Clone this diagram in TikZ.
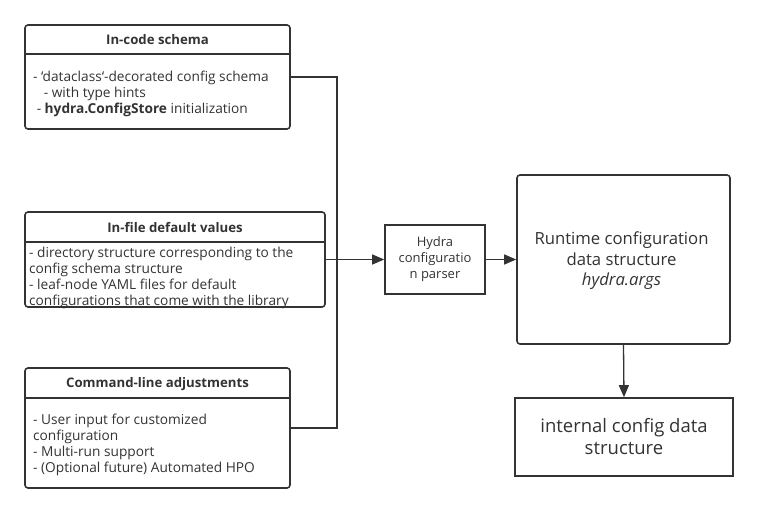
\documentclass[tikz,border=0pt]{standalone}
\usepackage{fontspec}
\setmainfont{Open Sans}
\usetikzlibrary{arrows.meta}
\definecolor{ln}{HTML}{333333}
\definecolor{tx}{HTML}{333333}
\tikzset{
  rbox/.style={draw=ln, line width=1.6pt, rounded corners=3pt, inner sep=0pt},
  sbox/.style={draw=ln, line width=1.6pt, inner sep=0pt},
  hdr/.style={font=\fontsize{13.2}{14}\selectfont\bfseries, text=tx, inner sep=0pt},
  body/.style={font=\fontsize{13.7}{16}\selectfont, text=tx, align=left, anchor=north west, inner sep=0pt},
  conn/.style={draw=ln, line width=1.3pt},
  arr/.style={conn, -{Triangle[length=12pt, width=10pt]}},
}
\begin{document}
\begin{tikzpicture}[x=1pt, y=-1pt]
\useasboundingbox (0,0) rectangle (758,513);
% box 1
\node[rbox, minimum width=265pt, minimum height=104pt] (b1) at (157.5,77) {};
\draw[ln, line width=1.3pt] (25,54) -- (290,54);
\node[hdr] (h1) at (157.5,40) {In-code schema};
\node[body] (t1) at (33,70.5) {- \symbol{96}dataclass\symbol{96}-decorated config schema\\
\ \ \ - with type hints\\
\ - \textbf{hydra.ConfigStore} initialization};
% box 2
\node[rbox, minimum width=300pt, minimum height=95pt] (b2) at (175,259.5) {};
\draw[ln, line width=1.3pt] (25,242) -- (325,242);
\node[hdr] (h2) at (175,228) {In-file default values};
\node[body] (t2) at (29,246.5) {- directory structure corresponding to the\\
config schema structure\\
- leaf-node YAML files for default\\
configurations that come with the library};
% box 3
\node[rbox, minimum width=265pt, minimum height=120pt] (b3) at (157.5,428) {};
\draw[ln, line width=1.3pt] (25,398) -- (290,398);
\node[hdr] (h3) at (157.5,384) {Command-line adjustments};
\node[body] (t3) at (33,413.5) {- User input for customized\\
configuration\\
- Multi-run support\\
- (Optional future) Automated HPO};
% parser
\node[sbox, minimum width=100pt, minimum height=69pt, align=center,
  font=\fontsize{13}{16}\selectfont, text=tx] (p) at (435,259.5) {Hydra\\configuratio\\n parser};
% runtime
\node[rbox, minimum width=213pt, minimum height=169pt] (r) at (623.5,259.5) {};
\node[font=\fontsize{16.7}{20.5}\selectfont, text=tx, align=center, inner sep=0pt] (rt) at (621.5,261) {Runtime configuration\\data structure\\\textit{hydra.args}};
% internal
\node[sbox, minimum width=218pt, minimum height=78pt, align=center,
  font=\fontsize{18.5}{22}\selectfont, text=tx] (i) at (624,437) {internal config data\\structure};
% connectors
\coordinate (j) at (337,259.5);
\draw[conn] (b1.east) -| (j);
\draw[conn] (b3.east) -| (j);
\draw[arr] (b2.east) -- (p.west);
\draw[arr] (p.east) -- (r.west);
\draw[arr] (r.south) -- (i.north);
\end{tikzpicture}
\end{document}
